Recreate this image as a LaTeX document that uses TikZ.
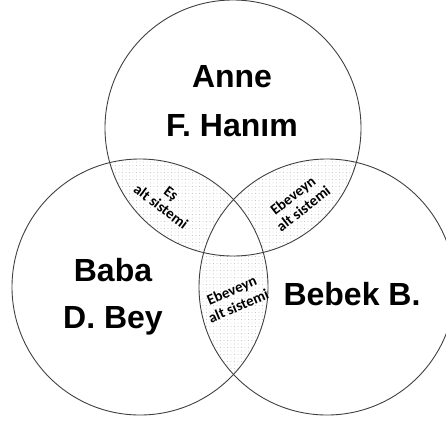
\documentclass[tikz,border=0pt]{standalone}
\usepackage{fontspec}
\setmainfont{Liberation Sans}
\newfontfamily\smallfont{Carlito}
\usetikzlibrary{patterns.meta}
\begin{document}
\begin{tikzpicture}[x=1pt,y=-1pt,
  ring/.style={circle, draw=black!75, line width=0.9pt, minimum size=256pt, inner sep=0pt},
  bigname/.style={font=\fontsize{32}{36}\selectfont\bfseries, inner sep=0pt, anchor=base},
  sub/.style={font=\smallfont\bfseries\fontsize{15}{17}\selectfont, align=center, inner sep=0pt},
  dotfill/.style={pattern={Dots[distance=3.5pt, radius=0.4pt]}, pattern color=black!35}]
\useasboundingbox (0,0) rectangle (446,421);
\coordinate (cA) at (233,128);
\coordinate (cB) at (140,287);
\coordinate (cC) at (327,287);
% pairwise lenses
\begin{scope}
  \clip (cA) circle[radius=128];
  \fill[dotfill] (cB) circle[radius=128];
  \fill[dotfill] (cC) circle[radius=128];
\end{scope}
\begin{scope}
  \clip (cB) circle[radius=128];
  \fill[dotfill] (cC) circle[radius=128];
\end{scope}
% triple intersection left white
\begin{scope}
  \clip (cA) circle[radius=128];
  \clip (cB) circle[radius=128];
  \fill[white] (cC) circle[radius=128];
\end{scope}
\node[ring] (anne) at (cA) {};
\node[ring] (baba) at (cB) {};
\node[ring] (bebek) at (cC) {};
\node[bigname] (t1) at (232,87) {Anne};
\node[bigname] (t2) at (232,136) {F. Hanım};
\node[bigname] (t3) at (113,281) {Baba};
\node[bigname] (t4) at (113,328) {D. Bey};
\node[bigname] (t5) at (352,305) {Bebek B.};
\node[sub, rotate=-37] (es) at (166,200) {Eş\\alt sistemi};
\node[sub, rotate=38] (eb1) at (298,202) {Ebeveyn\\alt sistemi};
\node[sub, rotate=23] (eb2) at (235,298) {Ebeveyn\\alt sistemi};
\end{tikzpicture}
\end{document}
